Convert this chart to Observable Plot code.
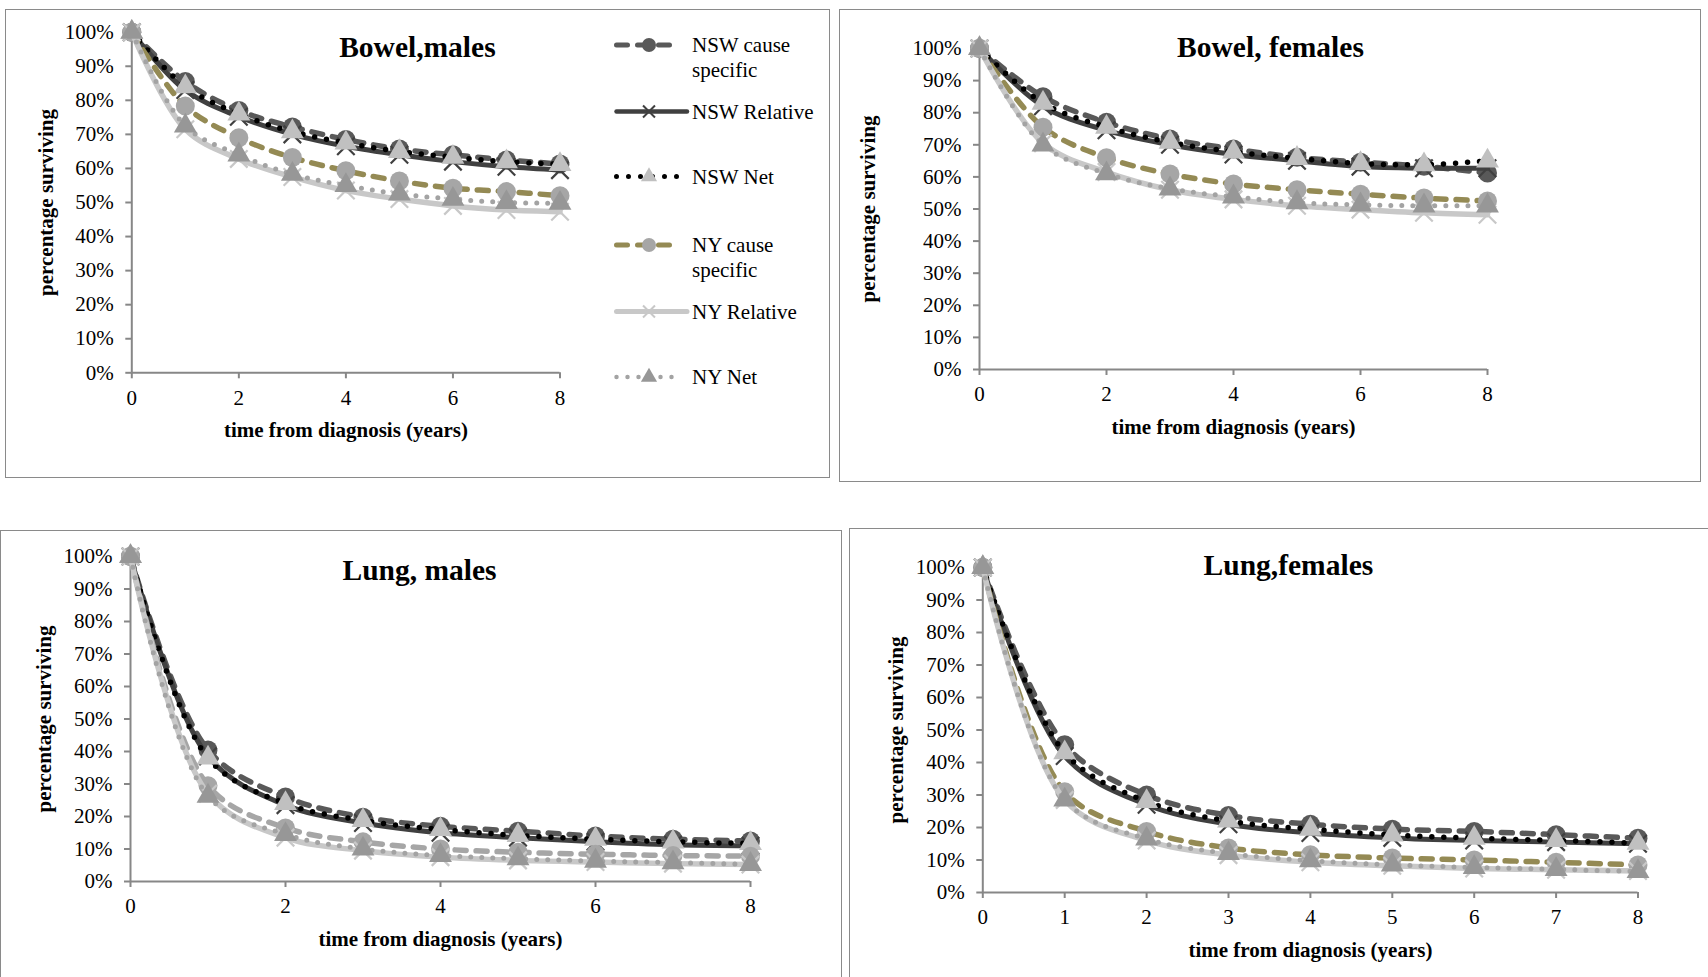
<!DOCTYPE html>
<html><head><meta charset="utf-8">
<script src="https://cdn.jsdelivr.net/npm/d3@7"></script>
<script src="https://cdn.jsdelivr.net/npm/@observablehq/plot@0.6"></script>
<style>
body{margin:0;background:#fff;}
#root{position:relative;width:1708px;height:977px;overflow:hidden;font-family:"Liberation Serif","Times New Roman",serif;background:#fff;}
.box{position:absolute;border:1.5px solid #8a8a8a;box-sizing:border-box;}
.panel{position:absolute;overflow:visible;}
</style></head><body><div id="root"></div>
<script>
// ---------- data ----------
const years = [0, 1, 2, 3, 4, 5, 6, 7, 8];
const seriesNames = ["NSW cause specific", "NSW Relative", "NSW Net", "NY cause specific", "NY Relative", "NY Net"];
const yTicks = [0, 10, 20, 30, 40, 50, 60, 70, 80, 90, 100];
const xTicksEven = [0, 2, 4, 6, 8];
const xTicksAll = [0, 1, 2, 3, 4, 5, 6, 7, 8];
const panelTitles = ["Bowel,males", "Bowel, females", "Lung, males", "Lung,females"];
const xAxisTitle = "time from diagnosis (years)";
const yAxisTitle = "percentage surviving";

// Bowel, males
const bowelMalesNSWCause = [100, 85.5, 77, 72.2, 68.5, 65.7, 64, 62.5, 61.3];
const bowelMalesNSWRelative = [100, 83, 75.2, 70, 66.5, 64, 62, 60.5, 59.5];
const bowelMalesNSWNet = [100, 84, 76, 70.8, 67.5, 65, 63.3, 62, 61.2];
const bowelMalesNYCause = [100, 78.3, 69, 63.2, 59.3, 56.3, 54.2, 53.2, 52];
const bowelMalesNYRelative = [100, 71.5, 62.8, 57.5, 53.5, 51, 49, 47.8, 47.3];
const bowelMalesNYNet = [100, 72.5, 64, 58.3, 55, 52.5, 51, 50, 49.8];

// Bowel, females
const bowelFemalesNSWCause = [100, 85, 77, 71.8, 68.7, 66.1, 64.6, 63.3, 61.2];
const bowelFemalesNSWRelative = [100, 82, 74.5, 70, 67, 65, 63.2, 62.7, 62.7];
const bowelFemalesNSWNet = [100, 83, 75.5, 70.8, 67.8, 65.8, 64.2, 63.8, 65];
const bowelFemalesNYCause = [100, 75.5, 66, 60.9, 57.8, 56, 54.6, 53.4, 52.5];
const bowelFemalesNYRelative = [100, 70.5, 61.5, 56, 53, 51, 49.8, 48.8, 48.2];
const bowelFemalesNYNet = [100, 70, 61, 56.3, 53.8, 52, 51.3, 51, 51];

// Lung, males
const lungMalesNSWCause = [100, 40.5, 26, 19.8, 17, 15.5, 14, 13, 12.5];
const lungMalesNSWRelative = [100, 38.5, 23.5, 18, 15, 13.5, 12.2, 11.3, 11];
const lungMalesNSWNet = [100, 38, 24, 18.8, 16, 14.2, 13, 12.2, 11.7];
const lungMalesNYCause = [100, 29.5, 16.5, 12.2, 10, 9, 8.4, 8, 7.8];
const lungMalesNYRelative = [100, 27, 13.5, 9.5, 7.5, 6.5, 6, 5.5, 5.2];
const lungMalesNYNet = [100, 26.3, 14.5, 10, 8, 7, 6.3, 5.8, 5.3];

// Lung, females
const lungFemalesNSWCause = [100, 45.5, 30, 23.7, 21, 19.5, 18.8, 17.8, 16.7];
const lungFemalesNSWRelative = [100, 42, 27, 21, 18.3, 16.8, 16, 15.5, 15];
const lungFemalesNSWNet = [100, 43, 28, 22, 19.5, 17.7, 16.7, 16, 15.2];
const lungFemalesNYCause = [100, 31, 18.8, 13.7, 11.6, 10.6, 10, 9.3, 8.5];
const lungFemalesNYRelative = [100, 28.5, 16, 11.5, 9.3, 8.2, 7.4, 7, 6.6];
const lungFemalesNYNet = [100, 28.5, 16.5, 12, 9.8, 8.5, 7.7, 7.1, 6.5];

const panelSeries = [
  [bowelMalesNSWCause, bowelMalesNSWRelative, bowelMalesNSWNet, bowelMalesNYCause, bowelMalesNYRelative, bowelMalesNYNet],
  [bowelFemalesNSWCause, bowelFemalesNSWRelative, bowelFemalesNSWNet, bowelFemalesNYCause, bowelFemalesNYRelative, bowelFemalesNYNet],
  [lungMalesNSWCause, lungMalesNSWRelative, lungMalesNSWNet, lungMalesNYCause, lungMalesNYRelative, lungMalesNYNet],
  [lungFemalesNSWCause, lungFemalesNSWRelative, lungFemalesNSWNet, lungFemalesNYCause, lungFemalesNYRelative, lungFemalesNYNet]
];

// ---------- styles ----------
const seriesStyles = [
  {line: "#595959", dash: "11,10", width: 5.5, symbol: "circle", fill: "#595959", r: 9.5},
  {line: "#404040", dash: null, width: 5, symbol: "times", stroke: "#404040", r: 8},
  {line: "#000000", dash: "0,12", width: 5.5, symbol: "triangle", fill: "#c0c0c0", r: 8.5},
  {line: "#948a54", dash: "11,10", width: 5.5, symbol: "circle", fill: "#a6a6a6", r: 9.5},
  {line: "#c8c8c8", dash: null, width: 5.5, symbol: "times", stroke: "#c8c8c8", r: 8},
  {line: "#a3a3a3", dash: "0,11", width: 5, symbol: "triangle", fill: "#979797", r: 8.5}
];

const layouts = [
  {left: 5, top: 9, width: 595, height: 468, ml: 126.3, mr: 40.5, mt: 22.7, mb: 104.7, xTicks: xTicksEven, titleDx: 71.5, titleDy: 15.5, yTitleDx: -85.5, box: [5, 9, 825, 469]},
  {left: 840, top: 9, width: 860, height: 472, ml: 139, mr: 213, mt: 39, mb: 112, xTicks: xTicksEven, titleDx: 37, titleDy: -1, yTitleDx: -111, box: [839, 9, 862, 473]},
  {left: 0, top: 530, width: 841, height: 447, ml: 130, mr: 91, mt: 26, mb: 96, xTicks: xTicksEven, titleDx: -21, titleDy: 14, yTitleDx: -86.5, box: [0, 530, 842, 460], lungMalesGrey: true},
  {left: 849, top: 528, width: 859, height: 449, ml: 133.3, mr: 70.5, mt: 39, mb: 85, xTicks: xTicksAll, titleDx: -22, titleDy: -2, yTitleDx: -87, box: [849, 528, 870, 460]}
];

const root = document.getElementById("root");

function makeBox([l, t, w, h]) {
  const d = document.createElement("div");
  d.className = "box";
  Object.assign(d.style, {left: l + "px", top: t + "px", width: w + "px", height: h + "px"});
  root.appendChild(d);
}

layouts.forEach((L, pi) => {
  makeBox(L.box);
  const marks = [];
  marks.push(Plot.ruleY([0], {stroke: "#878787", strokeWidth: 2}));
  marks.push(Plot.ruleX([0], {stroke: "#878787", strokeWidth: 2}));
  marks.push(Plot.axisX({ticks: L.xTicks, tickSize: 6, tickPadding: 11, fontSize: 21, stroke: "#878787", strokeWidth: 2, label: null, tickFormat: d => String(d)}));
  marks.push(Plot.axisY({ticks: yTicks, tickSize: 6, tickPadding: 12, fontSize: 21, stroke: "#878787", strokeWidth: 2, label: null, tickFormat: d => d + "%"}));
  panelSeries[pi].forEach((vals, si) => {
    const st = seriesStyles[si];
    const rows = years.map((x, i) => ({x, y: vals[i]}));
    let lineColor = st.line;
    if (L.lungMalesGrey && si === 3) lineColor = "#a6a6a6";
    marks.push(Plot.line(rows, {
      x: "x", y: "y", curve: "catmull-rom", stroke: lineColor, strokeWidth: st.width,
      strokeDasharray: st.dash || undefined, strokeLinecap: "round", strokeLinejoin: "round"
    }));
    if (st.symbol === "times") {
      marks.push(Plot.dot(rows, {x: "x", y: "y", symbol: "times", r: st.r, stroke: st.stroke, strokeWidth: 2.2}));
    } else {
      marks.push(Plot.dot(rows, {x: "x", y: "y", symbol: st.symbol, r: st.r, fill: st.fill, stroke: "none"}));
    }
  });
  marks.push(Plot.text([panelTitles[pi]], {frameAnchor: "top", dx: L.titleDx, dy: L.titleDy, lineAnchor: "middle", textAnchor: "middle", fontSize: 29.5, fontWeight: "bold", fill: "#000"}));
  marks.push(Plot.text([xAxisTitle], {frameAnchor: "bottom", dy: 57.5, lineAnchor: "middle", textAnchor: "middle", fontSize: 21, fontWeight: "bold", fill: "#000"}));
  marks.push(Plot.text([yAxisTitle], {frameAnchor: "left", dx: L.yTitleDx, rotate: -90, lineAnchor: "middle", textAnchor: "middle", fontSize: 21, fontWeight: "bold", fill: "#000"}));

  const svg = Plot.plot({
    width: L.width, height: L.height,
    marginLeft: L.ml, marginRight: L.mr, marginTop: L.mt, marginBottom: L.mb,
    x: {domain: [0, 8]},
    y: {domain: [0, 100]},
    style: {fontFamily: '"Liberation Serif", "Times New Roman", serif', fontSize: "21px", color: "#000", background: "transparent", overflow: "visible"},
    marks
  });
  svg.classList.add("panel");
  svg.style.left = L.left + "px";
  svg.style.top = L.top + "px";
  root.appendChild(svg);
});

// ---------- legend (inside first panel box) ----------
const legendRows = [
  {lines: ["NSW cause", "specific"], y: 45},
  {lines: ["NSW Relative"], y: 111.5},
  {lines: ["NSW Net"], y: 176.5},
  {lines: ["NY cause", "specific"], y: 245},
  {lines: ["NY Relative"], y: 311.5},
  {lines: ["NY Net"], y: 377}
];
const lg = d3.create("svg").attr("width", 230).attr("height", 400)
  .style("position", "absolute").style("left", "600px").style("top", "0px").style("overflow", "visible")
  .style("font-family", '"Liberation Serif", "Times New Roman", serif');
legendRows.forEach((row, i) => {
  const st = seriesStyles[i];
  const g = lg.append("g").attr("transform", `translate(0,${row.y})`);
  const x0 = 16.5, x1 = st.dash && st.dash.startsWith("0") ? 78 : (st.dash ? 77 : 87);
  g.append("line").attr("x1", x0).attr("x2", x1).attr("y1", 0).attr("y2", 0)
    .attr("stroke", st.line).attr("stroke-width", st.width - 0.5).attr("stroke-linecap", "round")
    .attr("stroke-dasharray", st.dash || null);
  const sym = st.symbol === "circle" ? d3.symbolCircle : st.symbol === "triangle" ? d3.symbolTriangle : d3.symbolTimes;
  const rr = st.r - 2.5;
  const size = Math.PI * rr * rr;
  g.append("path").attr("transform", "translate(49,0)").attr("d", d3.symbol(sym, size)())
    .attr("fill", st.symbol === "times" ? "none" : st.fill)
    .attr("stroke", st.symbol === "times" ? st.stroke : "none").attr("stroke-width", 2);
  row.lines.forEach((t, k) => {
    g.append("text").attr("x", 92).attr("y", k * 24.5).attr("dy", "0.35em")
      .attr("font-size", 21).attr("fill", "#000").text(t);
  });
});
root.appendChild(lg.node());
</script>
</body></html>
